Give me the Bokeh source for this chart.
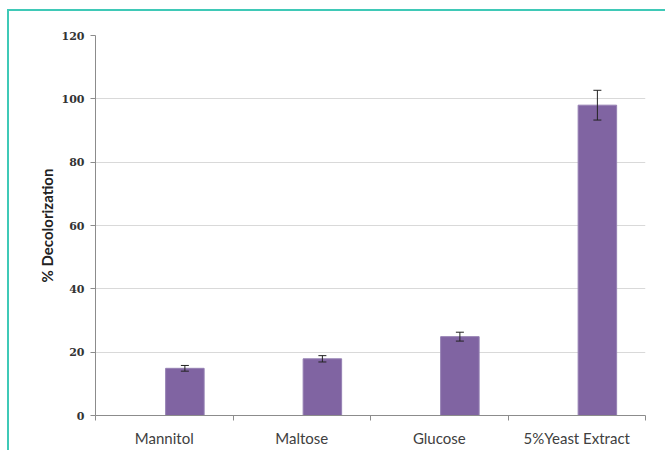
from bokeh.plotting import figure
from bokeh.models import (ColumnDataSource, Range1d, FixedTicker, Whisker, TeeHead)
from bokeh.embed import file_html
from bokeh.resources import INLINE

# ---- data ----
categories = ["Mannitol", "Maltose", "Glucose", "5%Yeast Extract"]
decolorization = [14.9, 17.9, 24.9, 98.0]
errors = [0.9, 1.0, 1.4, 4.7]
y_ticks = [0, 20, 40, 60, 80, 100, 120]

# bar sits right of category centre (Excel clustered layout, 2nd series slot)
offset = 0.15
bar_w = 0.28
xs = [i + 0.5 + offset for i in range(len(categories))]

src = ColumnDataSource(dict(
    x=xs,
    top=decolorization,
    upper=[v + e for v, e in zip(decolorization, errors)],
    lower=[v - e for v, e in zip(decolorization, errors)],
))

p = figure(
    frame_width=550, frame_height=380,
    min_border_left=86, min_border_right=20, min_border_top=24, min_border_bottom=35,
    x_range=Range1d(0, len(categories)), y_range=Range1d(0, 120),
    output_backend="svg", toolbar_location=None,
)
p.styles = {"border-top": "2px solid #3fc9b7", "border-left": "2px solid #3fc9b7",
            "margin-left": "7px", "margin-top": "9px"}
p.outline_line_color = None
p.background_fill_color = "white"
p.border_fill_color = "white"

p.vbar(x="x", top="top", width=bar_w, bottom=0, source=src,
       fill_color="#8064A2", line_color="#9580b3", line_width=1)

w = Whisker(source=src, base="x", upper="upper", lower="lower",
            line_color="#222222", line_width=1, level="overlay",
            upper_head=TeeHead(size=8, line_color="#222222", line_width=1),
            lower_head=TeeHead(size=8, line_color="#222222", line_width=1))
p.add_layout(w)

# y axis
p.yaxis.ticker = FixedTicker(ticks=y_ticks)
p.yaxis.axis_label = "% Decolorization"
p.yaxis.axis_label_text_font = "Lato"
p.yaxis.axis_label_text_font_style = "bold"
p.yaxis.axis_label_text_font_size = "15px"
p.yaxis.axis_label_text_color = "#222222"
p.yaxis.axis_label_standoff = 3
p.yaxis.major_label_text_font = "DejaVu Serif"
p.yaxis.major_label_text_font_style = "bold"
p.yaxis.major_label_text_font_size = "11px"
p.yaxis.major_label_text_color = "#333333"
p.yaxis.major_label_standoff = 6
p.yaxis.major_tick_out = 5
p.yaxis.major_tick_in = 0
p.yaxis.minor_tick_line_color = None
p.yaxis.axis_line_color = "#8c8c8c"
p.yaxis.major_tick_line_color = "#8c8c8c"

# x axis: labels at category centres, ticks at category boundaries
p.xaxis.ticker = FixedTicker(ticks=[i + 0.5 for i in range(len(categories))],
                             minor_ticks=list(range(len(categories) + 1)))
p.xaxis.major_label_overrides = {i + 0.5: c for i, c in enumerate(categories)}
p.xaxis.major_tick_line_color = None
p.xaxis.major_tick_out = 0
p.xaxis.major_tick_in = 0
p.xaxis.minor_tick_out = 5
p.xaxis.minor_tick_in = 0
p.xaxis.minor_tick_line_color = "#8c8c8c"
p.xaxis.axis_line_color = "#8c8c8c"
p.xaxis.major_label_text_font = "Lato"
p.xaxis.major_label_text_font_size = "15px"
p.xaxis.major_label_text_color = "#404040"
p.xaxis.major_label_standoff = 8

p.xgrid.grid_line_color = None
p.ygrid.grid_line_color = "#d9d9d9"
p.ygrid.grid_line_width = 1

open("out.html", "w").write(file_html(p, INLINE))
